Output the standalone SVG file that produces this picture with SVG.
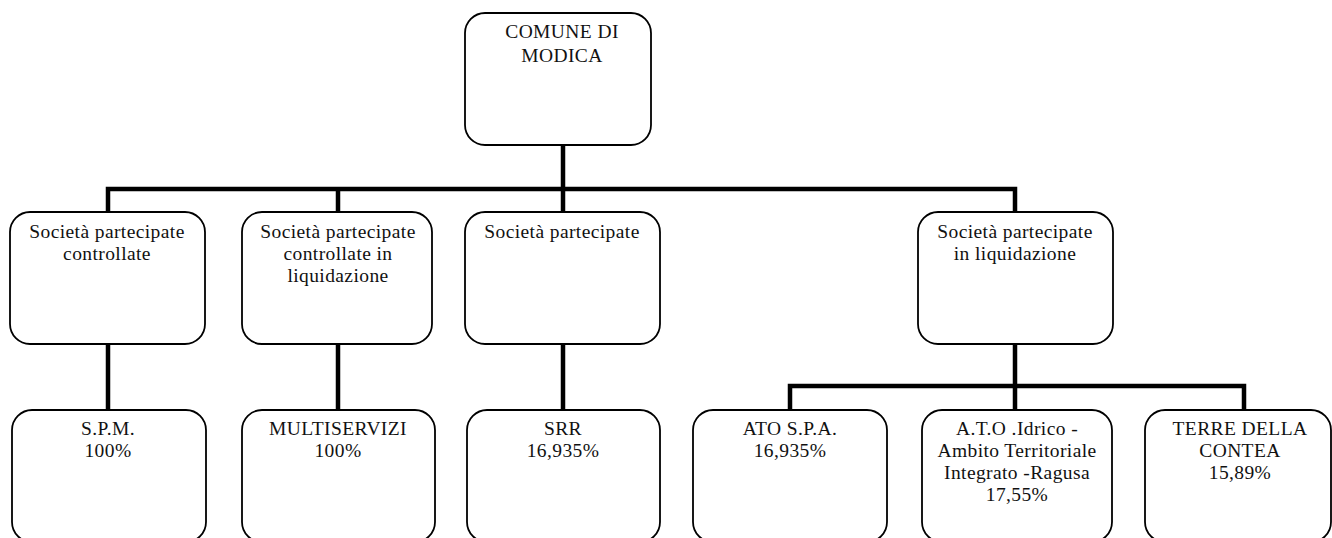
<svg xmlns="http://www.w3.org/2000/svg" width="1332" height="538" viewBox="0 0 1332 538">
<style>
.box{fill:#fff;stroke:#000;stroke-width:1.8}
.t{font-family:"Liberation Serif","Times New Roman",serif;font-size:19.5px;fill:#111;text-anchor:middle;letter-spacing:0.4px}
.c{fill:none;stroke:#000;stroke-width:4.5;stroke-linecap:square}
</style>
<rect width="1332" height="538" fill="#fff"/>
<g id="connectors">
<path class="c" d="M563 145V189M108 189H1015M108 189V212M338 189V212M563 189V212M1015 189V212"/>
<path class="c" d="M108 344V410M338 344V410M563 344V410M1015 344V410M790 386H1244M790 386V410M1244 386V410"/>
</g>
<g id="comune">
<rect class="box" x="465" y="13" width="186" height="132" rx="20"/>
<text class="t" x="562" y="38">COMUNE DI</text>
<text class="t" x="562" y="62">MODICA</text>
</g>
<g id="controllate">
<rect class="box" x="10" y="212" width="195" height="132" rx="20"/>
<text class="t" x="107" y="238">Società partecipate</text>
<text class="t" x="107" y="260">controllate</text>
</g>
<g id="controllate-liquidazione">
<rect class="box" x="242" y="212" width="190" height="132" rx="20"/>
<text class="t" x="338" y="238">Società partecipate</text>
<text class="t" x="338" y="260">controllate in</text>
<text class="t" x="338" y="282">liquidazione</text>
</g>
<g id="partecipate">
<rect class="box" x="465" y="212" width="195" height="132" rx="20"/>
<text class="t" x="562" y="238">Società partecipate</text>
</g>
<g id="partecipate-liquidazione">
<rect class="box" x="918" y="212" width="195" height="132" rx="20"/>
<text class="t" x="1015" y="238">Società partecipate</text>
<text class="t" x="1015" y="260">in liquidazione</text>
</g>
<g id="spm">
<rect class="box" x="12" y="410" width="194" height="132" rx="20"/>
<text class="t" x="108" y="435">S.P.M.</text>
<text class="t" x="108" y="457">100%</text>
</g>
<g id="multiservizi">
<rect class="box" x="242" y="410" width="193" height="132" rx="20"/>
<text class="t" x="338" y="435">MULTISERVIZI</text>
<text class="t" x="338" y="457">100%</text>
</g>
<g id="srr">
<rect class="box" x="467" y="410" width="193" height="132" rx="20"/>
<text class="t" x="563" y="435">SRR</text>
<text class="t" x="563" y="457">16,935%</text>
</g>
<g id="ato-spa">
<rect class="box" x="693" y="410" width="194" height="132" rx="20"/>
<text class="t" x="790" y="435">ATO S.P.A.</text>
<text class="t" x="790" y="457">16,935%</text>
</g>
<g id="ato-idrico">
<rect class="box" x="922" y="410" width="190" height="132" rx="20"/>
<text class="t" x="1017" y="435">A.T.O .Idrico -</text>
<text class="t" x="1017" y="457">Ambito Territoriale</text>
<text class="t" x="1017" y="479">Integrato -Ragusa</text>
<text class="t" x="1017" y="501">17,55%</text>
</g>
<g id="terre-della-contea">
<rect class="box" x="1145" y="410" width="186" height="132" rx="20"/>
<text class="t" x="1240" y="435">TERRE DELLA</text>
<text class="t" x="1240" y="457">CONTEA</text>
<text class="t" x="1240" y="479">15,89%</text>
</g>
</svg>
